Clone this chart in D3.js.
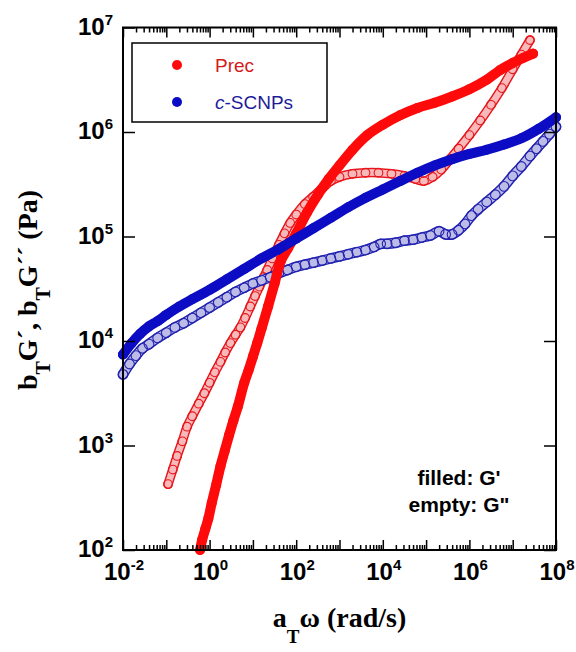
<!DOCTYPE html>
<html>
<head>
<meta charset="utf-8">
<script src="https://cdn.jsdelivr.net/npm/d3@7"></script>
<style>
  body { margin: 0; background: #fff; }
  svg text { font-family: "Liberation Sans", Arial, sans-serif; }
</style>
</head>
<body>
<div id="chart"></div>
<script>
// Values, stored as log10 (x = aT*omega in rad/s, y = bT*G in Pa)

// Prec, G' (filled red)
var precGpX = [-0.22, -0.17, -0.10, -0.03, 0.05, 0.15, 0.25, 0.35, 0.45, 0.55, 0.65, 0.8, 0.9, 1.0, 1.1, 1.2, 1.35, 1.5, 1.65, 1.8, 2.0, 2.25, 2.5, 2.75, 3.0, 3.3, 3.64, 4.0, 4.4, 4.8, 5.2, 5.6, 6.0, 6.4, 6.7, 7.0, 7.25, 7.47];
var precGpY = [2.00, 2.10, 2.20, 2.30, 2.45, 2.62, 2.80, 2.95, 3.10, 3.24, 3.37, 3.60, 3.72, 3.85, 3.98, 4.12, 4.33, 4.55, 4.77, 4.88, 5.03, 5.23, 5.40, 5.55, 5.68, 5.83, 5.97, 6.07, 6.16, 6.23, 6.28, 6.34, 6.41, 6.50, 6.59, 6.66, 6.71, 6.75];

// Prec, G'' (empty red)
var precGppX = [-0.96, -0.85, -0.75, -0.63, -0.52, -0.40, -0.25, -0.12, 0.0, 0.12, 0.25, 0.36, 0.48, 0.6, 0.71, 0.82, 0.94, 1.05, 1.15, 1.25, 1.33, 1.45, 1.6, 1.73, 1.86, 2.0, 2.2, 2.39, 2.6, 2.8, 3.0, 3.3, 3.6, 3.9, 4.2, 4.5, 4.75, 4.95, 5.15, 5.35, 5.55, 5.75, 6.0, 6.25, 6.5, 6.75, 7.0, 7.2, 7.4];
var precGppY = [2.63, 2.77, 2.90, 3.04, 3.18, 3.28, 3.40, 3.50, 3.60, 3.70, 3.80, 3.89, 3.98, 4.06, 4.13, 4.22, 4.33, 4.43, 4.52, 4.61, 4.68, 4.79, 4.92, 5.03, 5.13, 5.21, 5.31, 5.38, 5.46, 5.53, 5.57, 5.60, 5.61, 5.61, 5.60, 5.58, 5.55, 5.53, 5.57, 5.64, 5.74, 5.84, 5.97, 6.11, 6.26, 6.42, 6.60, 6.74, 6.88];

// c-SCNPs, G' (filled blue)
var scnpGpX = [-2.0, -1.8, -1.6, -1.4, -1.2, -1.0, -0.7, -0.4, 0.0, 0.4, 0.8, 1.2, 1.6, 2.0, 2.4, 2.8, 3.2, 3.6, 4.0, 4.4, 4.8, 5.2, 5.6, 6.0, 6.4, 6.8, 7.2, 7.6, 8.0];
var scnpGpY = [3.87, 3.98, 4.07, 4.14, 4.19, 4.25, 4.33, 4.40, 4.49, 4.59, 4.69, 4.79, 4.88, 4.98, 5.08, 5.18, 5.28, 5.37, 5.45, 5.53, 5.61, 5.68, 5.74, 5.79, 5.83, 5.88, 5.94, 6.03, 6.14];

// c-SCNPs, G'' (empty blue)
var scnpGppX = [-2.0, -1.85, -1.7, -1.55, -1.4, -1.2, -1.0, -0.8, -0.6, -0.4, -0.2, 0.0, 0.2, 0.4, 0.6, 0.8, 1.0, 1.2, 1.4, 1.6, 1.8, 2.0, 2.2, 2.4, 2.6, 2.8, 3.0, 3.2, 3.4, 3.6, 3.8, 3.95, 4.1, 4.3, 4.5, 4.7, 4.9, 5.1, 5.3, 5.45, 5.6, 5.75, 5.9, 6.05, 6.2, 6.4, 6.6, 6.8, 7.0, 7.2, 7.4, 7.55, 7.7, 7.85, 8.0];
var scnpGppY = [3.68, 3.78, 3.86, 3.93, 3.97, 4.03, 4.08, 4.13, 4.17, 4.22, 4.27, 4.32, 4.37, 4.42, 4.47, 4.51, 4.55, 4.58, 4.61, 4.65, 4.68, 4.71, 4.73, 4.75, 4.77, 4.79, 4.81, 4.83, 4.85, 4.87, 4.90, 4.93, 4.93, 4.94, 4.96, 4.97, 4.99, 5.01, 5.05, 5.02, 5.02, 5.06, 5.12, 5.20, 5.26, 5.33, 5.40, 5.48, 5.58, 5.67, 5.77, 5.84, 5.91, 5.98, 6.05];

// Axis decades
var xDecades = [-2, -1, 0, 1, 2, 3, 4, 5, 6, 7, 8];
var xLabelDecades = [-2, 0, 2, 4, 6, 8];
var yDecades = [2, 3, 4, 5, 6, 7];

var red = "#ff0a0a";
var blue = "#0c0cc4";

var svgWidth = 576;
var svgHeight = 652;
var margin = { top: 27.5, right: 20, bottom: 102, left: 123 };
var chartWidth = svgWidth - margin.left - margin.right;
var chartHeight = svgHeight - margin.top - margin.bottom;

var svg = d3.select("#chart").append("svg")
    .attr("width", svgWidth)
    .attr("height", svgHeight);

var chartGroup = svg.append("g")
    .attr("transform", `translate(${margin.left}, ${margin.top})`);

var xScale = d3.scaleLog().domain([1e-2, 1e8]).range([0, chartWidth]);
var yScale = d3.scaleLog().domain([1e2, 1e7]).range([chartHeight, 0]);

function toPoints(xs, ys) {
    return xs.map((v, i) => ({ x: Math.pow(10, v), y: Math.pow(10, ys[i]) }));
}

var line = d3.line()
    .x(d => xScale(d.x))
    .y(d => yScale(d.y))
    .curve(d3.curveCatmullRom);

// Empty markers (G''): outlined tube plus rings
function drawEmpty(pts, color, width) {
    var g = chartGroup.append("g");
    g.append("path")
        .datum(pts)
        .attr("d", line)
        .attr("fill", "none")
        .attr("stroke", color)
        .attr("stroke-width", width)
        .attr("stroke-linecap", "round");
    g.append("path")
        .datum(pts)
        .attr("d", line)
        .attr("fill", "none")
        .attr("stroke", "#fff")
        .attr("stroke-width", width - 3)
        .attr("stroke-linecap", "round");
    g.append("path")
        .datum(pts)
        .attr("d", line)
        .attr("fill", "none")
        .attr("stroke", color)
        .attr("stroke-opacity", 0.3)
        .attr("stroke-width", width - 3)
        .attr("stroke-linecap", "round");
    g.selectAll("circle")
        .data(pts)
        .enter()
        .append("circle")
        .attr("cx", d => xScale(d.x))
        .attr("cy", d => yScale(d.y))
        .attr("r", width / 2 - 0.4)
        .attr("fill", "none")
        .attr("stroke", color)
        .attr("stroke-width", 1.1);
}

// Filled markers (G')
function drawFilled(pts, color) {
    chartGroup.append("path")
        .datum(pts)
        .attr("d", line)
        .attr("fill", "none")
        .attr("stroke", color)
        .attr("stroke-width", 10)
        .attr("stroke-linecap", "round")
        .attr("stroke-linejoin", "round");
    chartGroup.append("g").selectAll("circle")
        .data(pts)
        .enter()
        .append("circle")
        .attr("cx", d => xScale(d.x))
        .attr("cy", d => yScale(d.y))
        .attr("r", 5)
        .attr("fill", color);
}

drawEmpty(toPoints(precGppX, precGppY), "#e8161c", 9.5);
drawEmpty(toPoints(scnpGppX, scnpGppY), "#2222b0", 10.5);
drawFilled(toPoints(precGpX, precGpY), red);
drawFilled(toPoints(scnpGpX, scnpGpY), blue);

// Minor + major tick values on x (log pattern)
var xMinor = [];
xDecades.slice(0, -1).forEach(k => {
    for (var m = 2; m <= 9; m++) xMinor.push(m * Math.pow(10, k));
});
var xMajor = xDecades.map(k => Math.pow(10, k));
var yMajor = yDecades.map(k => Math.pow(10, k));

// Bottom axis, ticks inward
chartGroup.append("g")
    .attr("transform", `translate(0, ${chartHeight})`)
    .call(d3.axisTop(xScale).tickValues(xMinor).tickSize(5).tickFormat(""))
    .call(g => g.select(".domain").remove());
chartGroup.append("g")
    .attr("transform", `translate(0, ${chartHeight})`)
    .call(d3.axisTop(xScale).tickValues(xMajor).tickSize(10).tickFormat(""))
    .call(g => g.select(".domain").remove());

// Top axis, ticks inward
chartGroup.append("g")
    .call(d3.axisBottom(xScale).tickValues(xMinor).tickSize(5).tickFormat(""))
    .call(g => g.select(".domain").remove());
chartGroup.append("g")
    .call(d3.axisBottom(xScale).tickValues(xMajor).tickSize(10).tickFormat(""))
    .call(g => g.select(".domain").remove());

// Left and right axes, major ticks inward
chartGroup.append("g")
    .call(d3.axisRight(yScale).tickValues(yMajor).tickSize(12).tickFormat(""))
    .call(g => g.select(".domain").remove());
chartGroup.append("g")
    .attr("transform", `translate(${chartWidth}, 0)`)
    .call(d3.axisLeft(yScale).tickValues(yMajor).tickSize(12).tickFormat(""))
    .call(g => g.select(".domain").remove());

chartGroup.selectAll(".tick line")
    .attr("stroke", "#000")
    .attr("stroke-width", 1.5);

// Frame
chartGroup.append("rect")
    .attr("width", chartWidth)
    .attr("height", chartHeight)
    .attr("fill", "none")
    .attr("stroke", "#000")
    .attr("stroke-width", 2);

// X tick labels
var xLabels = chartGroup.selectAll(".xlab")
    .data(xLabelDecades)
    .enter()
    .append("text")
    .attr("class", "xlab")
    .attr("x", d => xScale(Math.pow(10, d)) + 1)
    .attr("y", chartHeight + 30)
    .attr("text-anchor", "middle")
    .style("font-size", "24px")
    .style("font-weight", "bold");
xLabels.append("tspan").text("10");
xLabels.append("tspan")
    .attr("dy", -10)
    .style("font-size", "15px")
    .text(d => d);

// Y tick labels
var yLabels = chartGroup.selectAll(".ylab")
    .data(yDecades)
    .enter()
    .append("text")
    .attr("class", "ylab")
    .attr("x", -10)
    .attr("y", d => yScale(Math.pow(10, d)) + 7)
    .attr("text-anchor", "end")
    .style("font-size", "24px")
    .style("font-weight", "bold");
yLabels.append("tspan").text("10");
yLabels.append("tspan")
    .attr("dy", -10)
    .style("font-size", "15px")
    .text(d => d);

// Legend
var legend = svg.append("g");
legend.append("rect")
    .attr("x", 132).attr("y", 43)
    .attr("width", 195).attr("height", 79)
    .attr("fill", "#fff")
    .attr("stroke", "#000")
    .attr("stroke-width", 1.5);
legend.append("circle").attr("cx", 177).attr("cy", 65).attr("r", 5).attr("fill", red);
legend.append("circle").attr("cx", 177).attr("cy", 102).attr("r", 5).attr("fill", blue);
legend.append("text")
    .attr("x", 215).attr("y", 72)
    .style("font-size", "19px")
    .style("fill", "#d41a1a")
    .text("Prec");
var l2 = legend.append("text")
    .attr("x", 215).attr("y", 109)
    .style("font-size", "19px")
    .style("fill", "#1c1c9a");
l2.append("tspan").style("font-style", "italic").text("c");
l2.append("tspan").text("-SCNPs");

// Note
svg.append("text")
    .attr("x", 459).attr("y", 485)
    .attr("text-anchor", "middle")
    .style("font-size", "21px")
    .style("font-weight", "bold")
    .text("filled: G'");
svg.append("text")
    .attr("x", 459).attr("y", 512)
    .attr("text-anchor", "middle")
    .style("font-size", "21px")
    .style("font-weight", "bold")
    .text("empty: G\"");

// X axis title
var xTitle = svg.append("text")
    .attr("x", margin.left + chartWidth / 2)
    .attr("y", 627)
    .attr("text-anchor", "middle")
    .style("font-family", "'Liberation Serif', 'Times New Roman', serif")
    .style("font-size", "28px")
    .style("font-weight", "bold");
xTitle.append("tspan").text("a");
xTitle.append("tspan").attr("dy", 16).style("font-size", "19px").text("T");
xTitle.append("tspan").attr("dy", -16).text("\u03c9 (rad/s)");

// Y axis title
var yTitle = svg.append("text")
    .attr("transform", "translate(37, 290) rotate(-90)")
    .attr("text-anchor", "middle")
    .style("font-family", "'Liberation Serif', 'Times New Roman', serif")
    .style("font-size", "28px")
    .style("font-weight", "bold");
yTitle.append("tspan").text("b");
yTitle.append("tspan").attr("dy", 13).style("font-size", "20px").text("T");
yTitle.append("tspan").attr("dy", -13).text("G\u00b4, b");
yTitle.append("tspan").attr("dy", 13).style("font-size", "20px").text("T");
yTitle.append("tspan").attr("dy", -13).text("G\u00b4\u00b4 (Pa)");
</script>
</body>
</html>
